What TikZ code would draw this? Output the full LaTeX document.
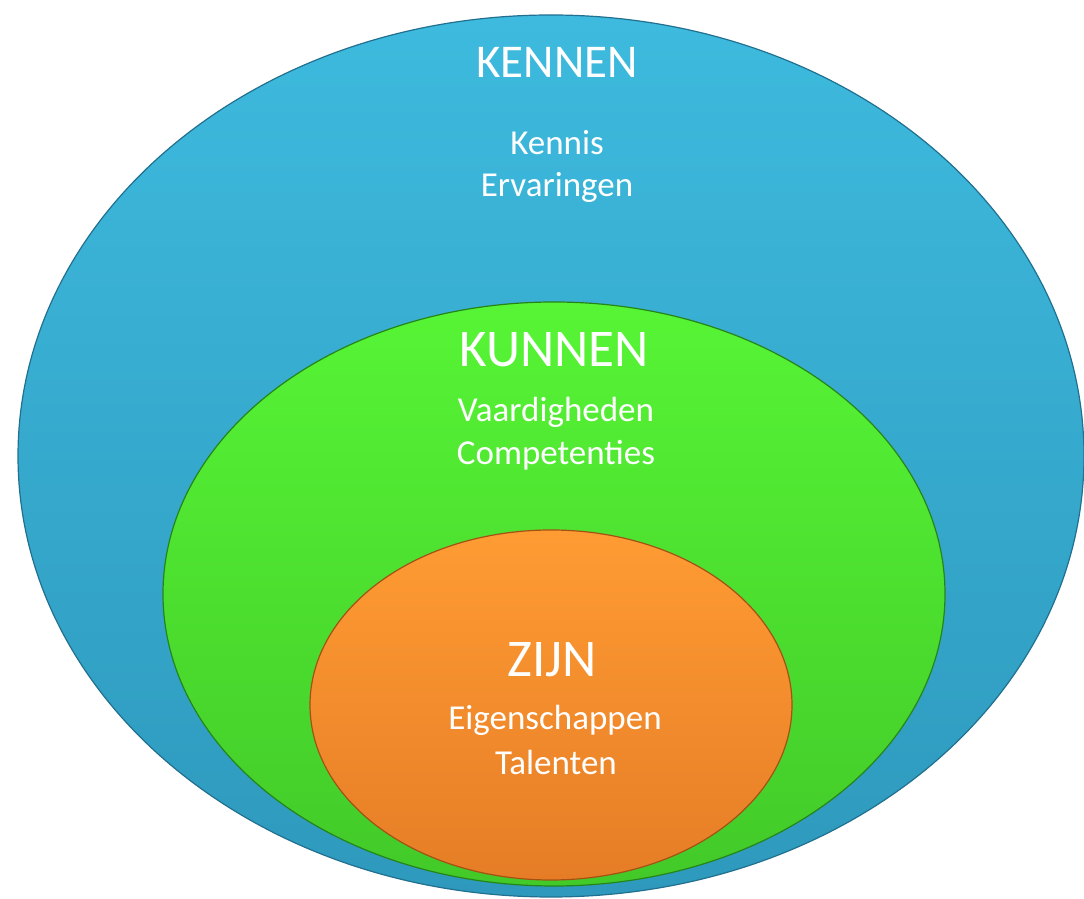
\documentclass[tikz,border=0pt]{standalone}
\usepackage{fontspec}
\setmainfont{Carlito}
\newlength{\du}
\setlength{\du}{1pt}
% layer colours
\definecolor{kennentop}{rgb}{0.240000, 0.730000, 0.870000}
\definecolor{kennenbot}{rgb}{0.180000, 0.600000, 0.740000}
\definecolor{kennenrim}{rgb}{0.130000, 0.440000, 0.560000}
\definecolor{kunnentop}{rgb}{0.340000, 0.960000, 0.210000}
\definecolor{kunnenbot}{rgb}{0.260000, 0.790000, 0.160000}
\definecolor{kunnenrim}{rgb}{0.150000, 0.520000, 0.100000}
\definecolor{zijntop}{rgb}{1.000000, 0.610000, 0.200000}
\definecolor{zijnbot}{rgb}{0.900000, 0.490000, 0.150000}
\definecolor{zijnrim}{rgb}{0.640000, 0.320000, 0.080000}
\tikzset{
  laag/.style={line width=1.200000\du},
  kop/.style={anchor=base, text=white, inner sep=0pt},
  regel/.style={anchor=base, text=white, inner sep=0pt, font=\fontsize{35pt}{42pt}\selectfont}
}

\begin{document}
\begin{tikzpicture}
\useasboundingbox (0\du,0\du) rectangle (1084.000000\du,899.000000\du);
% KENNEN
\shade[laag, top color=kennentop, bottom color=kennenbot, draw=kennenrim] (551.000000\du,443.000000\du) ellipse [x radius=533.000000\du, y radius=441.000000\du];
% KUNNEN
\shade[laag, top color=kunnentop, bottom color=kunnenbot, draw=kunnenrim] (554.000000\du,305.000000\du) ellipse [x radius=391.000000\du, y radius=292.000000\du];
% ZIJN
\shade[laag, top color=zijntop, bottom color=zijnbot, draw=zijnrim] (551.000000\du,194.000000\du) ellipse [x radius=241.000000\du, y radius=175.000000\du];
% setfont left to latex
\node[kop, font=\fontsize{47pt}{54pt}\selectfont] (kennen) at (557.000000\du,821.000000\du){KENNEN};
\node[regel] (kennis) at (557.000000\du,744.000000\du){Kennis};
\node[regel] (ervaringen) at (557.000000\du,702.000000\du){Ervaringen};
\node[kop, font=\fontsize{53pt}{60pt}\selectfont] (kunnen) at (554.000000\du,532.000000\du){KUNNEN};
\node[regel] (vaardigheden) at (556.000000\du,477.000000\du){Vaardigheden};
\node[regel] (competenties) at (556.000000\du,434.000000\du){Competenties};
\node[kop, font=\fontsize{53pt}{60pt}\selectfont] (zijn) at (552.000000\du,222.000000\du){ZIJN};
\node[regel] (eigenschappen) at (555.000000\du,169.000000\du){Eigenschappen};
\node[regel] (talenten) at (556.000000\du,124.000000\du){Talenten};
\end{tikzpicture}
\end{document}
